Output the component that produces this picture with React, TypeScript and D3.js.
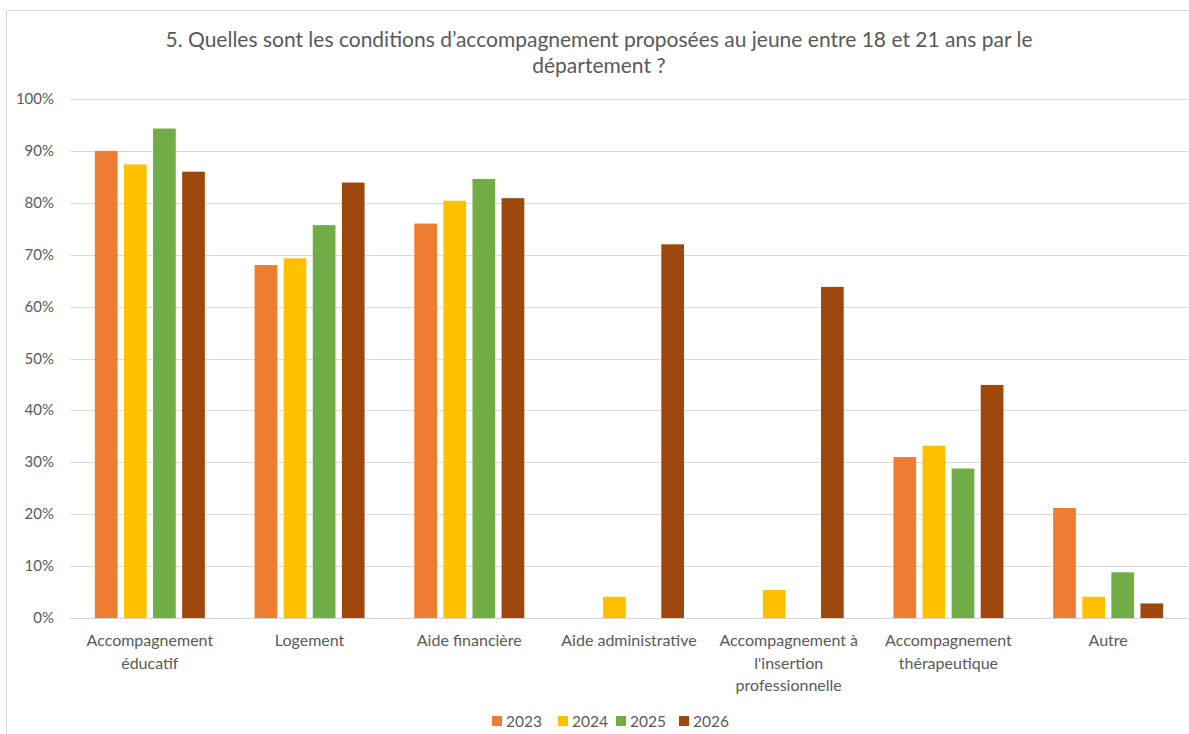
import { useEffect, useRef } from "react";
import * as d3 from "d3";

const categories = [
  ["Accompagnement", "éducatif"],
  ["Logement"],
  ["Aide financière"],
  ["Aide administrative"],
  ["Accompagnement à", "l'insertion", "professionnelle"],
  ["Accompagnement", "thérapeutique"],
  ["Autre"],
];
const years = ["2023", "2024", "2025", "2026"];
const values2023 = [0.9, 0.68, 0.76, 0, 0, 0.31, 0.212];
const values2024 = [0.874, 0.693, 0.804, 0.041, 0.054, 0.332, 0.041];
const values2025 = [0.943, 0.757, 0.846, 0, 0, 0.288, 0.088];
const values2026 = [0.86, 0.839, 0.809, 0.72, 0.638, 0.449, 0.028];
const yTicks = [0, 0.1, 0.2, 0.3, 0.4, 0.5, 0.6, 0.7, 0.8, 0.9, 1];
const colors = ["#ED7D31", "#FFC000", "#70AD47", "#9E480E"];
const titleLines = [
  "5. Quelles sont les conditions d’accompagnement proposées au jeune entre 18 et 21 ans par le",
  "département ?",
];

const W = 1189;
const H = 734;
const FONT = "Lato, 'Open Sans', sans-serif";

export default function App() {
  const svgRef = useRef<SVGSVGElement>(null);

  useEffect(() => {
    if (!svgRef.current) return;
    const svg = d3.select(svgRef.current);
    svg.selectAll("*").remove();

    const series = [values2023, values2024, values2025, values2026];
    const left = 70;
    const right = 1188;
    const top = 99;
    const bottom = 618;

    svg.append("rect").attr("width", W).attr("height", H).attr("fill", "#fff");
    // chart frame
    svg
      .append("path")
      .attr("d", `M6.5,${H} V10.5 H${W}`)
      .attr("fill", "none")
      .attr("stroke", "#D9D9D9");

    svg
      .selectAll(".title")
      .data(titleLines)
      .enter()
      .append("text")
      .attr("x", 599)
      .attr("y", (_, i) => 47 + i * 26)
      .attr("text-anchor", "middle")
      .attr("font-family", FONT)
      .attr("font-size", 21)
      .attr("fill", "#595959")
      .text(d => d);

    const y = d3.scaleLinear().domain([0, 1]).range([bottom, top]);
    const x = d3
      .scaleBand<number>()
      .domain(d3.range(categories.length))
      .range([left, right])
      .padding(0);
    const groupW = 110;
    const xi = d3
      .scaleBand<number>()
      .domain(d3.range(years.length))
      .range([(x.bandwidth() - groupW) / 2, (x.bandwidth() + groupW) / 2])
      .paddingInner(0.22)
      .paddingOuter(0);

    // grid
    svg
      .append("g")
      .selectAll("line")
      .data(yTicks)
      .enter()
      .append("line")
      .attr("x1", left)
      .attr("x2", right)
      .attr("y1", d => Math.round(y(d)) + 0.5)
      .attr("y2", d => Math.round(y(d)) + 0.5)
      .attr("stroke", d => (d === 0 ? "#D0D5DD" : "#D9D9D9"))
      .attr("stroke-width", 1.2);

    svg
      .append("g")
      .selectAll("text")
      .data(yTicks)
      .enter()
      .append("text")
      .attr("x", 54)
      .attr("y", d => y(d) + 5)
      .attr("text-anchor", "end")
      .attr("font-family", FONT)
      .attr("font-size", 15)
      .attr("fill", "#595959")
      .text(d => d3.format(".0%")(d));

    // bars
    series.forEach((vals, s) => {
      const pts = vals.map((v, i) => ({ v, i })).filter(d => d.v > 0);
      svg
        .append("g")
        .selectAll("rect")
        .data(pts)
        .enter()
        .append("rect")
        .attr("x", d => (x(d.i) as number) + (xi(s) as number))
        .attr("width", xi.bandwidth())
        .attr("y", d => y(d.v))
        .attr("height", d => bottom - y(d.v))
        .attr("fill", colors[s]);
    });

    // category labels
    const lab = svg
      .append("g")
      .selectAll("text")
      .data(categories)
      .enter()
      .append("text")
      .attr("text-anchor", "middle")
      .attr("font-family", FONT)
      .attr("font-size", 16)
      .attr("fill", "#595959");
    lab
      .selectAll("tspan")
      .data((d, i) => d.map(t => ({ t, i })))
      .enter()
      .append("tspan")
      .attr("x", d => (x(d.i) as number) + x.bandwidth() / 2)
      .attr("y", (_, j) => 646 + j * 22.5)
      .text(d => d.t);

    // legend
    const legX = [492, 558, 616, 679];
    const leg = svg
      .append("g")
      .selectAll("g")
      .data(years)
      .enter()
      .append("g")
      .attr("transform", (_, i) => `translate(${legX[i]},716)`);
    leg
      .append("rect")
      .attr("width", 10)
      .attr("height", 10)
      .attr("fill", (_, i) => colors[i]);
    leg
      .append("text")
      .attr("x", 14)
      .attr("y", 10.5)
      .attr("font-family", FONT)
      .attr("font-size", 15.5)
      .attr("fill", "#595959")
      .text(d => d);
  }, []);

  return (
    <div style={{ position: "absolute", left: 0, top: 0 }}>
      <svg ref={svgRef} width={W} height={H} style={{ display: "block" }} />
    </div>
  );
}
